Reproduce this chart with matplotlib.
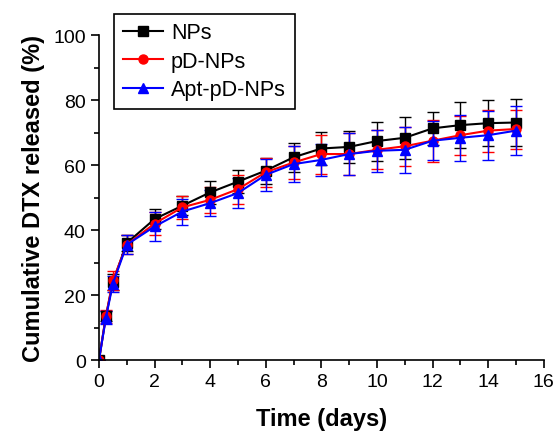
import numpy as np
import matplotlib.pyplot as plt
from matplotlib.ticker import MultipleLocator

plt.rcParams['font.family'] = ['Liberation Sans', 'DejaVu Sans']

# release time points (days)
time = [0, 0.25, 0.5, 1, 2, 3, 4, 5, 6, 7, 8, 9, 10, 11, 12, 13, 14, 15]

# cumulative DTX released (%) and standard deviations
nps = [0, 13.5, 24, 36, 43.4, 47.5, 51.6, 54.9, 58.3, 62.4, 65.1, 65.6, 67.4, 68.4, 71.3, 72.3, 72.9, 73.1]
nps_err = [0, 1.5, 2.5, 2.5, 3, 3, 3.5, 3.5, 4, 4.5, 5, 5, 6, 6.5, 5, 7, 7, 7.3]

pd_nps = [0, 13.5, 24.5, 35.5, 42, 47, 49.3, 52.6, 57.8, 60.8, 63.4, 63.4, 64.7, 65.8, 67.5, 69.2, 70.6, 71.1]
pd_nps_err = [0, 2, 3, 3, 3.5, 3.5, 4, 4.5, 4.5, 5, 6, 6.5, 6, 6, 6.5, 6, 6.5, 6]

apt_pd_nps = [0, 13, 23.5, 35.5, 41.1, 45.7, 48.3, 51.4, 57, 60.3, 61.6, 63.4, 64.4, 64.7, 67.5, 68.4, 69.2, 70.6]
apt_pd_nps_err = [0, 2, 2.5, 3, 4.5, 4, 4, 4.5, 5, 5.5, 5, 6.5, 6.5, 7, 6, 7, 7.5, 7.5]

series = [
    ('NPs', nps, nps_err, 'black', 's'),
    ('pD-NPs', pd_nps, pd_nps_err, 'red', 'o'),
    ('Apt-pD-NPs', apt_pd_nps, apt_pd_nps_err, 'blue', '^'),
]

fig = plt.figure(figsize=(5.56, 4.35), dpi=100)
ax = fig.add_axes([0.178, 0.170, 0.800, 0.747])

for label, vals, errs, color, marker in series:
    ax.errorbar(time, vals, yerr=errs, color=color, marker=marker,
                markersize=6.5, linewidth=1.5, elinewidth=1, capsize=4,
                capthick=1, label=label)

ax.set_xlim(0, 16)
ax.set_ylim(0, 100)
ax.xaxis.set_major_locator(MultipleLocator(2))
ax.xaxis.set_minor_locator(MultipleLocator(1))
ax.yaxis.set_major_locator(MultipleLocator(20))
ax.yaxis.set_minor_locator(MultipleLocator(10))
ax.spines['top'].set_visible(False)
ax.spines['right'].set_visible(False)
ax.spines['left'].set_linewidth(1.2)
ax.spines['bottom'].set_linewidth(1.2)
ax.tick_params(which='major', length=6, width=1.2, labelsize=14, direction='out')
ax.tick_params(which='minor', length=3.5, width=1.2, direction='out')

ax.set_xlabel('Time (days)', fontsize=17, fontweight='bold', labelpad=12)
ax.set_ylabel('Cumulative DTX released (%)', fontsize=17, fontweight='bold', labelpad=6)

handles, labels = ax.get_legend_handles_labels()
handles = [h[0] for h in handles]
leg = ax.legend(handles, labels, loc='upper left', bbox_to_anchor=(0.205, 0.966),
                bbox_transform=fig.transFigure, fontsize=15.5, frameon=True,
                fancybox=False, edgecolor='black', framealpha=1,
                handlelength=1.9, borderpad=0.4, labelspacing=0.35,
                handletextpad=0.35, borderaxespad=0)
leg.get_frame().set_linewidth(1.2)

fig.savefig('out.png', dpi=100)
